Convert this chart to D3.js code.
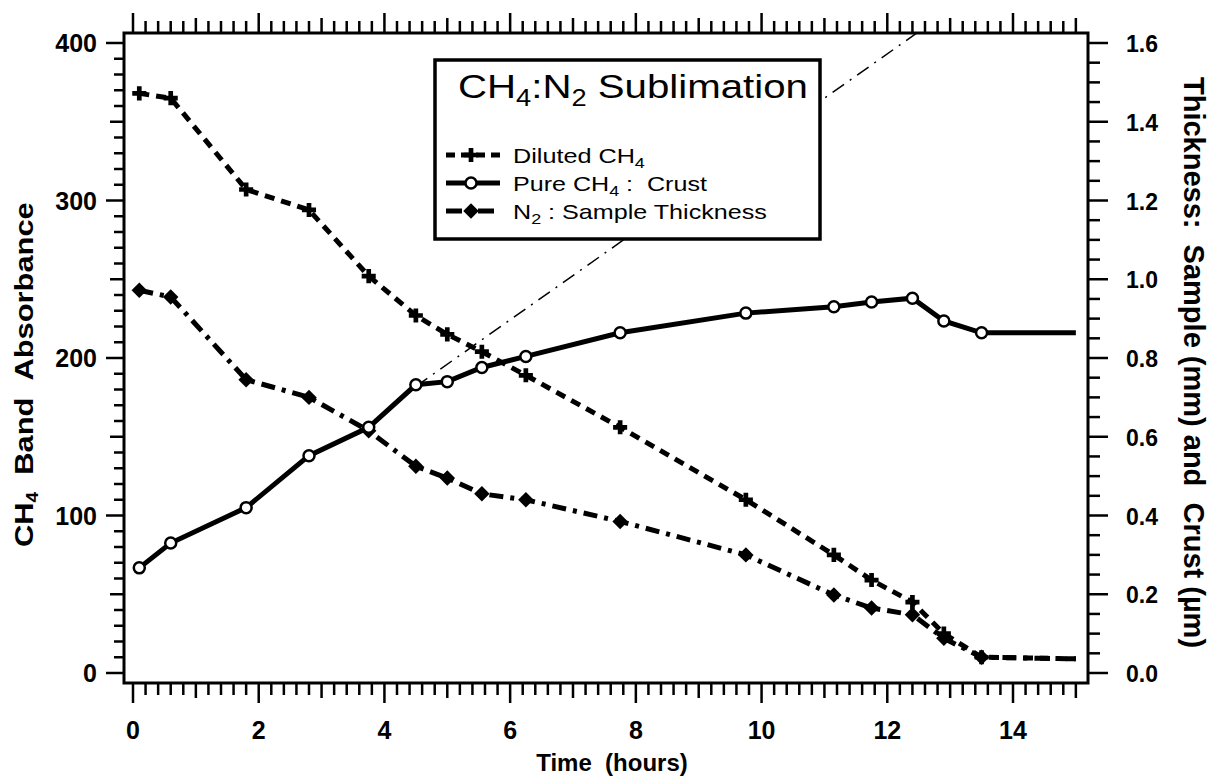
<!DOCTYPE html>
<html><head><meta charset="utf-8">
<script src="https://cdn.jsdelivr.net/npm/d3@7"></script>
<style>
html,body{margin:0;padding:0;background:#fff;}
svg{display:block;}
text{font-family:"Liberation Sans",Arial,Helvetica,sans-serif;fill:#000;}
</style></head>
<body>
<svg id="chart" width="1220" height="778"></svg>
<script>
// ---- data ----
const timeHours = [0.1, 0.6, 1.8, 2.8, 3.75, 4.5, 5.0, 5.55, 6.25, 7.75, 9.75, 11.15, 11.75, 12.4, 12.9, 13.5, 15.0];
const dilutedCH4 = [368, 365, 307, 294, 252, 227, 215, 204, 189, 156, 110, 75, 59, 45, 25, 10, 9];           // band absorbance (left)
const pureCH4Crust = [0.267, 0.33, 0.42, 0.552, 0.624, 0.732, 0.74, 0.776, 0.804, 0.864, 0.914, 0.93, 0.942, 0.952, 0.894, 0.864, 0.864]; // µm (right)
const n2Thickness = [0.972, 0.955, 0.745, 0.70, 0.615, 0.525, 0.495, 0.455, 0.44, 0.385, 0.30, 0.198, 0.165, 0.148, 0.088, 0.04, 0.036];  // mm (right)
const fitLineT = [4.5, 12.6];
const fitLineV = [182, 410];
const xTickLabels = [0, 2, 4, 6, 8, 10, 12, 14];
const leftTickLabels = [0, 100, 200, 300, 400];
const rightTickLabels = [0.0, 0.2, 0.4, 0.6, 0.8, 1.0, 1.2, 1.4, 1.6];
const legendLabels = [
  [{t:"Diluted CH"},{t:"4",sub:true}],
  [{t:"Pure CH"},{t:"4",sub:true},{t:" :\u00a0 Crust"}],
  [{t:"N"},{t:"2",sub:true},{t:" : Sample Thickness"}]
];

// ---- layout ----
const svg = d3.select("#chart");
const F = {l:124, r:1088, t:33, b:683};
const x = d3.scaleLinear().domain([0,14]).range([133,1013]);
const yL = d3.scaleLinear().domain([0,400]).range([673,43]);
const yR = d3.scaleLinear().domain([0,1.6]).range([673,43]);

function fit(sel, base, target){
  const len = sel.node().getComputedTextLength();
  sel.attr("transform", base + ` scale(${target/len},1)`);
}

svg.append("defs").append("clipPath").attr("id","plotclip")
  .append("rect").attr("x",F.l).attr("y",F.t).attr("width",F.r-F.l).attr("height",F.b-F.t);

// ---- ticks ----
const tickG = svg.append("g").attr("stroke","#000").attr("stroke-width",2.5);
function near(a,b){return Math.abs(a-b)<1e-6;}
d3.range(0,76).map(i=>i*0.2).forEach(v=>{
  const isMaj = near(v%2,0)||near(v%2,2);
  const isMed = !isMaj && (near(v%1,0)||near(v%1,1));
  const len = isMaj?20:(isMed?15:12);
  tickG.append("line").attr("x1",x(v)).attr("x2",x(v)).attr("y1",F.b).attr("y2",F.b+len);
  tickG.append("line").attr("x1",x(v)).attr("x2",x(v)).attr("y1",F.t).attr("y2",F.t-len);
});
d3.range(0,41).map(i=>i*10).forEach(v=>{
  const len = v%100===0?18:(v%50===0?14:10);
  tickG.append("line").attr("x1",F.l).attr("x2",F.l-len).attr("y1",yL(v)).attr("y2",yL(v));
});
d3.range(0,33).map(i=>i*0.05).forEach(v=>{
  const k = Math.round(v*20);
  const len = k%4===0?20:12;
  tickG.append("line").attr("x1",F.r).attr("x2",F.r+len).attr("y1",yR(v)).attr("y2",yR(v));
});

// tick labels
const lblG = svg.append("g").attr("font-weight","bold").attr("font-size",25);
xTickLabels.forEach(v=>{
  lblG.append("text").attr("x",x(v)).attr("y",739).attr("text-anchor","middle").text(v);
});
leftTickLabels.forEach(v=>{
  lblG.append("text").attr("x",97).attr("y",yL(v)+9).attr("text-anchor","end").text(v);
});
rightTickLabels.forEach(v=>{
  lblG.append("text").attr("x",1126).attr("y",yR(v)+9).attr("text-anchor","start")
    .attr("font-size",23).text(d3.format(".1f")(v));
});

// axis titles
svg.append("text").attr("x",612).attr("y",771).attr("text-anchor","middle")
  .attr("font-weight","bold").attr("font-size",24).text("Time\u00a0 (hours)");
const lt = svg.append("text").attr("font-weight","bold").attr("font-size",26);
lt.append("tspan").text("CH");
lt.append("tspan").attr("font-size",16).attr("dy",5).text("4");
lt.append("tspan").attr("dy",-5).text("\u00a0\u00a0Band\u00a0\u00a0Absorbance");
fit(lt, "translate(33,547) rotate(-90)", 345);
svg.append("text").attr("transform","translate(1184,77) rotate(90)")
  .attr("font-weight","bold").attr("font-size",29)
  .text("Thickness:\u00a0\u00a0Sample (mm) and\u00a0\u00a0Crust (\u00b5m)");

// ---- fit line ----
const plot = svg.append("g").attr("clip-path","url(#plotclip)");
plot.append("line")
  .attr("x1",x(fitLineT[0])).attr("y1",yL(fitLineV[0]))
  .attr("x2",x(fitLineT[1])).attr("y2",yL(fitLineV[1]))
  .attr("stroke","#000").attr("stroke-width",1.5).attr("stroke-dasharray","14,7,2,7");

// ---- series ----
const dil = timeHours.map((t,i)=>({t, y:yL(dilutedCH4[i])}));
const crust = timeHours.map((t,i)=>({t, y:yR(pureCH4Crust[i])}));
const n2 = timeHours.map((t,i)=>({t, y:yR(n2Thickness[i])}));
const line = d3.line().x(d=>x(d.t)).y(d=>d.y);

plot.append("path").attr("d",line(n2)).attr("fill","none").attr("stroke","#000")
  .attr("stroke-width",5).attr("stroke-dasharray","14,7,4,7");
plot.append("path").attr("d",line(dil)).attr("fill","none").attr("stroke","#000")
  .attr("stroke-width",5).attr("stroke-dasharray","10,7");
plot.append("path").attr("d",line(crust)).attr("fill","none").attr("stroke","#000")
  .attr("stroke-width",5);

const crossSym = d3.symbol().type(d3.symbolCross).size(110);
const diamSym = d3.symbol().type(d3.symbolSquare).size(120);
const nPts = timeHours.length-1; // last point is end-of-line, no marker
plot.selectAll(".dm").data(n2.slice(0,nPts)).join("path").attr("class","dm")
  .attr("d",diamSym).attr("transform",d=>`translate(${x(d.t)},${d.y}) rotate(45)`).attr("fill","#000");
plot.selectAll(".pm").data(dil.slice(0,nPts)).join("path").attr("class","pm")
  .attr("d",crossSym).attr("transform",d=>`translate(${x(d.t)},${d.y})`).attr("fill","#000");
plot.selectAll(".cm").data(crust.slice(0,nPts)).join("circle").attr("class","cm")
  .attr("cx",d=>x(d.t)).attr("cy",d=>d.y).attr("r",5.5)
  .attr("fill","#fff").attr("stroke","#000").attr("stroke-width",2.5);

// ---- frame ----
svg.append("rect").attr("x",F.l).attr("y",F.t).attr("width",F.r-F.l).attr("height",F.b-F.t)
  .attr("fill","none").attr("stroke","#000").attr("stroke-width",3);

// ---- legend ----
const lg = svg.append("g");
lg.append("rect").attr("x",435).attr("y",60).attr("width",385).attr("height",179)
  .attr("fill","#fff").attr("stroke","#000").attr("stroke-width",3.5);
const tt = lg.append("text").attr("font-size",34);
tt.append("tspan").text("CH");
tt.append("tspan").attr("font-size",23).attr("dy",8).text("4");
tt.append("tspan").attr("dy",-8).text(":N");
tt.append("tspan").attr("font-size",23).attr("dy",8).text("2");
tt.append("tspan").attr("dy",-8).text(" Sublimation");
fit(tt, "translate(458,98)", 350);

const ly = [155, 183, 211];
const lens = [132, 194, 254];
const styles = [
  {dash:"9,6", sym:"cross"},
  {dash:null, sym:"circle"},
  {dash:"16,6,4,6", sym:"diamond"}
];
styles.forEach((s,i)=>{
  const g = lg.append("g");
  const l = g.append("line").attr("x1",446).attr("x2",500).attr("y1",ly[i]).attr("y2",ly[i])
    .attr("stroke","#000").attr("stroke-width",5);
  if(s.dash) l.attr("stroke-dasharray",s.dash);
  if(s.sym==="cross") g.append("path").attr("d",crossSym).attr("transform",`translate(471,${ly[i]})`);
  if(s.sym==="diamond") g.append("path").attr("d",diamSym).attr("transform",`translate(471,${ly[i]}) rotate(45)`);
  if(s.sym==="circle") g.append("circle").attr("cx",471).attr("cy",ly[i]).attr("r",5.5)
    .attr("fill","#fff").attr("stroke","#000").attr("stroke-width",2.5);
  const t = g.append("text").attr("font-size",21);
  legendLabels[i].forEach((p,j)=>{
    if(p.sub){ t.append("tspan").attr("font-size",15).attr("dy",5).text(p.t); }
    else { const sp = t.append("tspan").text(p.t); if(j>0) sp.attr("dy",-5); }
  });
  fit(t, `translate(513,${ly[i]+8})`, lens[i]);
});
</script>
</body></html>
